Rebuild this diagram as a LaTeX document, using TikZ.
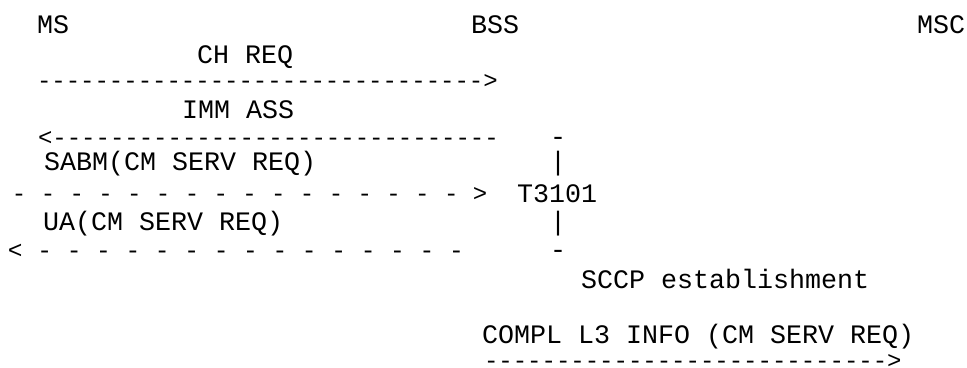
\documentclass[tikz,border=0pt]{standalone}
\usepackage{fontspec}
\setmonofont{Liberation Mono}
\begin{document}
\begin{tikzpicture}[x=1pt,y=-1pt,
  txt/.style={font=\ttfamily\fontsize{26.67}{30}\selectfont, anchor=base west, inner sep=0pt, outer sep=0pt},
  dashrow/.style={font=\ttfamily\fontsize{24}{28}\selectfont, anchor=base west, inner sep=0pt, outer sep=0pt},
  widedashrow/.style={font=\ttfamily\fontsize{24.5}{28}\selectfont, anchor=base west, inner sep=0pt, outer sep=0pt},
  barmark/.style={font=\ttfamily\fontsize{26.67}{30}\selectfont, anchor=base, inner sep=0pt, outer sep=0pt}]
\useasboundingbox (0,0) rectangle (967,367);
% header
\node[txt] (ms)  at (37,33)  {MS};
\node[txt] (bss) at (471,33) {BSS};
\node[txt] (msc) at (917,33) {MSC};
% CH REQ
\node[txt] (chreq) at (197,63) {CH REQ};
\node[dashrow] (a1) at (37,88.5) {------------------------------->};
% IMM ASS
\node[txt] (immass) at (182,118) {IMM ASS};
\node[dashrow] (a2) at (38,145.5) {<-------------------------------};
% T3101 bracket
\node[barmark] (t1) at (558,145.5) {-};
\node[barmark] (b1) at (558,170) {|};
\node[txt] (t3101) at (517,202) {T3101};
\node[barmark] (b2) at (558,230) {|};
\node[barmark] (t2) at (558,258.5) {-};
% SABM
\node[txt] (sabm) at (44,170) {SABM(CM SERV REQ)};
\node[dashrow] (a3) at (12,201.5) {- - - - - - - - - - - - - - - - >};
% UA
\node[txt] (ua) at (43,230) {UA(CM SERV REQ)};
\node[widedashrow] (a4) at (8,258.5) {< - - - - - - - - - - - - - - -};
% SCCP
\node[txt] (sccp) at (581,288) {SCCP establishment};
% COMPL L3 INFO
\node[txt] (compl) at (482,343) {COMPL L3 INFO (CM SERV REQ)};
\node[dashrow] (a5) at (484,368.5) {---------------------------->};
\end{tikzpicture}
\end{document}
